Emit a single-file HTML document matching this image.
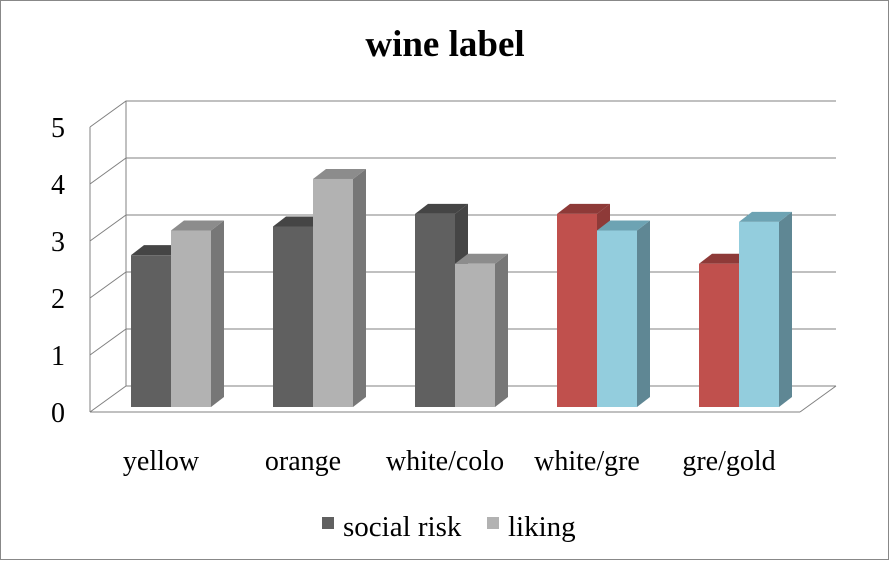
<!DOCTYPE html>
<html><head><meta charset="utf-8"><style>
body{margin:0;background:#fff}
svg text{font-family:"Liberation Serif",serif;fill:#000}
</style></head><body>
<svg width="889" height="560">
<rect x="0.5" y="0.5" width="888" height="559" fill="#fff" stroke="#888"/>
<text x="445" y="56" font-size="37" font-weight="bold" text-anchor="middle">wine label</text>
<g id="grid"></g>
<g id="bars"></g>
<g id="xl"></g>
<g>
<rect x="322" y="517" width="12" height="12" fill="#606060"/>
<text x="343" y="536" font-size="29">social risk</text>
<rect x="487" y="517" width="12" height="12" fill="#b2b2b2"/>
<text x="508" y="536" font-size="29">liking</text>
</g>
</svg>
<script>
const categories=["yellow","orange","white/colo","white/gre","gre/gold"];
const socialRisk=[2.65,3.15,3.37,3.37,2.5];
const liking=[3.08,3.98,2.5,3.08,3.23];
const ticks=[0,1,2,3,4,5];
const NS="http://www.w3.org/2000/svg";
function mk(t,a,p){const e=document.createElementNS(NS,t);for(const k in a)e.setAttribute(k,a[k]);p.appendChild(e);return e;}
const yFront=v=>412-57*v, yBar=v=>407-57.3*v;
const grid=document.getElementById('grid');
mk('line',{x1:90,y1:yFront(0),x2:90,y2:yFront(5),stroke:'#808080'},grid);
mk('line',{x1:90,y1:yFront(0),x2:800,y2:yFront(0),stroke:'#808080'},grid);
mk('line',{x1:800,y1:yFront(0),x2:836,y2:yFront(0)-26,stroke:'#808080'},grid);
ticks.forEach(t=>{
 const y=yFront(t);
 const l=mk('polyline',{points:`90,${y} 126,${y-26} 836,${y-26}`,fill:'none',stroke:'#808080'},grid);
 
 
 const tx=mk('text',{x:58,y:y+10,'font-size':28,'text-anchor':'middle'},grid);
 tx.textContent=t;
 
 
});
mk('line',{x1:126,y1:yFront(5)-26,x2:126,y2:yFront(0)-26,stroke:'#808080'},grid);
const bars=document.getElementById('bars');
function bar(x,v,front,top,side,name){
 const g=mk('g',{},bars);
 
 
 const y=yBar(v),w=40,b=407,dx=13,dy=10;
 mk('polygon',{points:`${x+w},${y} ${x+w+dx},${y-dy} ${x+w+dx},${b-dy} ${x+w},${b}`,fill:side},g);
 mk('polygon',{points:`${x},${y} ${x+dx},${y-dy} ${x+w+dx},${y-dy} ${x+w},${y}`,fill:top},g);
 mk('rect',{x:x,y:y,width:w,height:b-y,fill:front},g);
}
const xl=document.getElementById('xl');
categories.forEach((c,i)=>{
 const x0=131+142*i, colored=i>=3;
 bar(x0,socialRisk[i],colored?'#c0504d':'#606060',colored?'#8e3a38':'#454545',colored?'#8e3a38':'#454545','bar-social-'+i);
 bar(x0+40,liking[i],colored?'#93cddd':'#b2b2b2',colored?'#6da3b3':'#8c8c8c',colored?'#5f8794':'#777777','bar-liking-'+i);
 const t=mk('text',{x:x0+30,y:470,'font-size':28,'text-anchor':'middle'},xl);
 t.textContent=c;
 
 
});
</script>
</body></html>
